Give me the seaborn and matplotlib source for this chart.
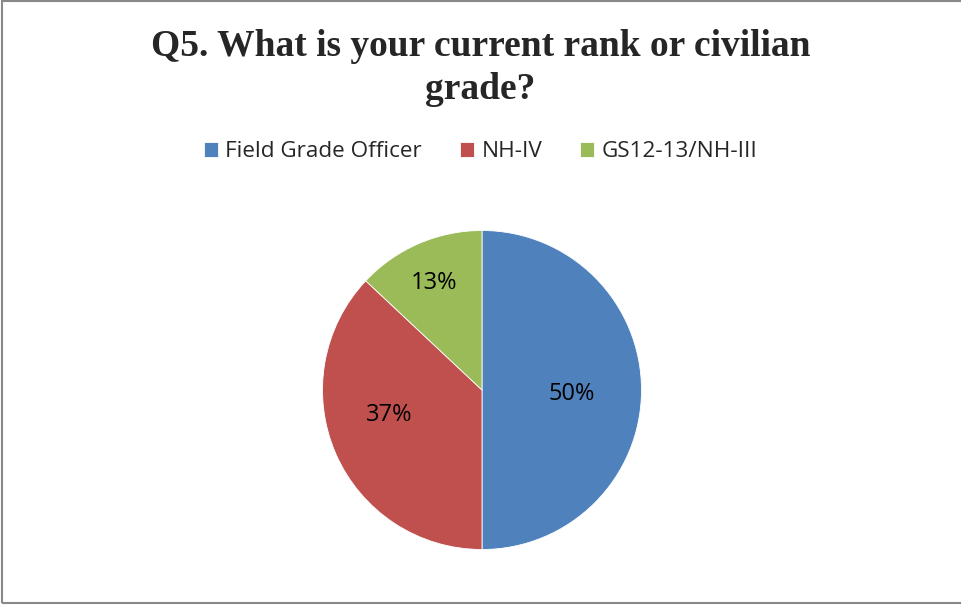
import matplotlib
matplotlib.use("Agg")
import matplotlib.pyplot as plt
import matplotlib.patches as mpatches
import seaborn as sns
import numpy as np

categories = ["Field Grade Officer", "NH-IV", "GS12-13/NH-III"]
values = [50, 37, 13]
colors = ["#4F81BD", "#C0504D", "#9BBB59"]

sns.set_theme(style="white")
plt.rcParams["font.family"] = ["Open Sans", "DejaVu Sans"]

W, H = 961, 606
fig = plt.figure(figsize=(W / 100, H / 100), dpi=100)

# outer chart border
fig.patches.append(mpatches.Rectangle((1.5 / W, 3 / H), 1.0, 1.0 - 3 / H - 1 / H,
                                      transform=fig.transFigure, fill=False,
                                      edgecolor="#888888", linewidth=1.5))

cx, cy, r = 482, 390, 159.5
ax = fig.add_axes([(cx - r) / W, (H - cy - r) / H, 2 * r / W, 2 * r / H])
wedges, _ = ax.pie(values, colors=colors, startangle=90, counterclock=False,
                   wedgeprops=dict(edgecolor="white", linewidth=0.6))
ax.set_xlim(-1, 1)
ax.set_ylim(-1, 1)
ax.set_aspect("equal")
ax.axis("off")
for w in wedges:
    w.set_clip_on(False)

# percentage labels: radial distance and angle nudge per slice (Excel best fit)
dists = [0.56, 0.60, 0.75]
nudges = [-1, -10, 0]
total = sum(values)
for w, v, d, n in zip(wedges, values, dists, nudges):
    ang = np.deg2rad((w.theta1 + w.theta2) / 2 + n)
    ax.text(d * np.cos(ang), d * np.sin(ang) - 0.016, f"{round(100 * v / total)}%",
            ha="center", va="center", fontsize=17, color="black")

fig.text(0.5, 1 - 68 / H, "Q5. What is your current rank or civilian\ngrade?",
         ha="center", va="center", fontsize=27, fontweight="bold",
         family="Liberation Serif", linespacing=1.3)

fig.legend(wedges, categories, loc="center", bbox_to_anchor=(0.5, 1 - 152 / H),
           ncol=3, frameon=False, fontsize=16.2, handlelength=0.63, handleheight=0.63,
           handletextpad=0.32, columnspacing=1.7)

fig.savefig("out.png", dpi=100)
